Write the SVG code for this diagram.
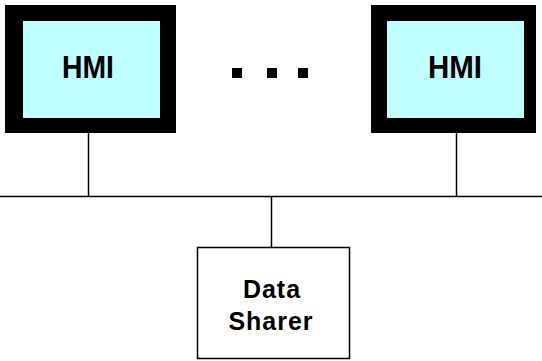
<svg xmlns="http://www.w3.org/2000/svg" width="542" height="361" viewBox="0 0 542 361">
<style>
.frame{fill:#000}
.screen{fill:#C0FFFF}
.hmi{font-family:"Liberation Sans",Arial,sans-serif;font-weight:bold;font-size:32px;fill:#000;text-anchor:middle}
.lbl{font-family:"Liberation Sans",Arial,sans-serif;font-weight:bold;font-size:25px;fill:#000;text-anchor:middle;letter-spacing:1px}
.wire{stroke:#000;stroke-width:1.5;fill:none}
</style>
<rect width="542" height="361" fill="#fff"/>
<g id="connectors">
<line class="wire" x1="0" y1="196.5" x2="542" y2="196.5"/>
<line class="wire" x1="88.5" y1="133" x2="88.5" y2="196.5"/>
<line class="wire" x1="456.5" y1="133" x2="456.5" y2="196.5"/>
<line class="wire" x1="271.5" y1="196.5" x2="271.5" y2="247"/>
</g>
<g id="hmi1">
<rect class="frame" x="5" y="5" width="171" height="128"/>
<rect class="screen" x="23" y="21" width="137" height="97"/>
<text class="hmi" x="88" y="78" textLength="52" lengthAdjust="spacingAndGlyphs">HMI</text>
</g>
<g id="ellipsis">
<rect x="232" y="68" width="10" height="10" fill="#000"/>
<rect x="267" y="68" width="10" height="10" fill="#000"/>
<rect x="298" y="68" width="10" height="10" fill="#000"/>
</g>
<g id="hmi2">
<rect class="frame" x="371" y="5" width="165" height="128"/>
<rect class="screen" x="387" y="21" width="137" height="97"/>
<text class="hmi" x="455" y="78" textLength="54" lengthAdjust="spacingAndGlyphs">HMI</text>
</g>
<g id="datasharer">
<rect x="197.5" y="247.5" width="152" height="111" fill="#fff" stroke="#000" stroke-width="1.5"/>
<text class="lbl" x="272" y="298">Data</text>
<text class="lbl" x="271" y="330">Sharer</text>
</g>
</svg>
